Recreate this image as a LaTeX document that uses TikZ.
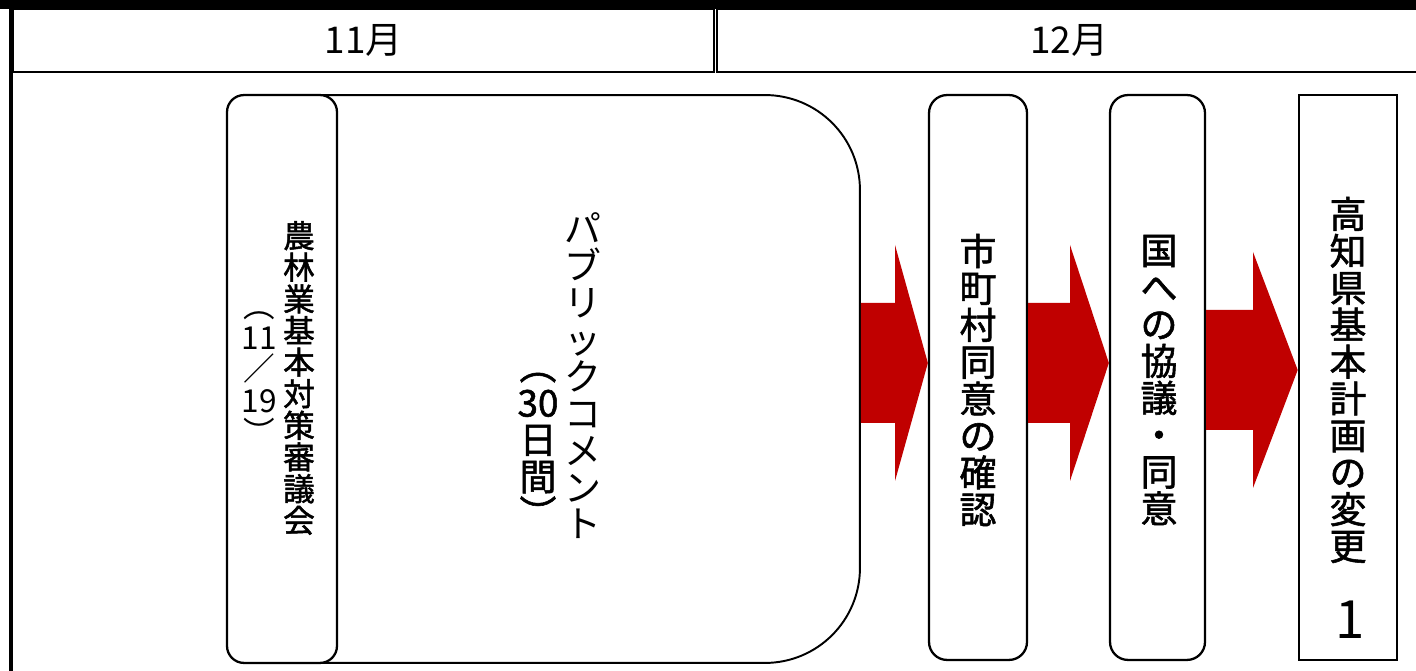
\documentclass[tikz,border=0pt]{standalone}
\usepackage{fontspec}
\usepackage{tikz}
\usetikzlibrary{positioning}
\newfontfamily\jpfont{Noto Sans CJK JP}
\newfontfamily\jpmid[FakeBold=1.5]{Noto Sans CJK JP}
\definecolor{flowred}{RGB}{192,0,0}

\tikzset{
  monthcell/.style={draw,line width=1pt,minimum height=1.26cm,inner sep=0pt,
    font=\jpfont\fontsize{21pt}{21pt}\selectfont},
  stagebox/.style={draw,line width=1.3pt,fill=white,rounded corners=0.36cm,
    minimum width=1.96cm,minimum height=11.3cm,inner sep=0pt},
  vtext/.style={align=center,inner sep=0pt,
    font=\jpmid\fontsize{21pt}{21pt}\selectfont},
}

% block arrow: from node, to node, middle y, x of the head base
\newcommand\flowarrow[4]{%
  \path (0,#3-60) coordinate (arrtop) (0,#3) coordinate (arrmid)
    (0,#3+60) coordinate (arrbot);
  \fill[flowred] (#1.east |- arrtop) -- (#4,#3-60) -- (#4,#3-118)
    -- (#2.west |- arrmid) -- (#4,#3+118) -- (#4,#3+60)
    -- (#1.east |- arrbot) -- cycle;
}

\begin{document}
\begin{tikzpicture}[x=0.02cm,y=-0.02cm]
  \useasboundingbox (0,0) rectangle (1416,671);
  % frame
  \fill (0,0) rectangle (1416,9);
  \fill (9,0) rectangle (13,671);
  % months
  \node[monthcell,minimum width=14.02cm] (nov) at (363.5,40.5) {11月};
  \node[monthcell,minimum width=14.08cm] (dec) at (1069,40.5) {12月};
  % public comment with the council in front
  \node[stagebox,line width=1.1pt,rounded corners=1.9cm,minimum width=12.66cm,
    minimum height=11.36cm] (pc) at (543.5,379) {};
  \node[stagebox,rounded corners=0.34cm,minimum width=2.2cm,
    minimum height=11.36cm] (council) at (282,379) {};
  \node[vtext,font=\jpmid\fontsize{18pt}{18pt}\selectfont]
    (counciltext) at (299,378) {農\\林\\業\\基\\本\\対\\策\\審\\議\\会};
  \node[vtext,font=\jpfont\fontsize{18pt}{18pt}\selectfont]
    (councildate) at (259,378) {︵\\11\\／\\19\\︶};
  \node[vtext,font=\jpfont\fontsize{21pt}{21pt}\selectfont]
    (pctext) at (583,376) {パ\\ブ\\リ\\ッ\\ク\\コ\\メ\\ン\\ト};
  \node[vtext] (pcdays) at (538,450) {︵\\30\\日\\間\\︶};
  % later steps
  \node[stagebox] (city) at (978,377.5) {};
  \node[vtext] (citytext) at (978,380) {市\\町\\村\\同\\意\\の\\確\\認};
  \node[stagebox,minimum width=1.9cm] (nation) at (1157.5,377.5) {};
  \node[vtext] (nationtext) at (1159,380) {国\\へ\\の\\協\\議\\・\\同\\意};
  \node[stagebox,rounded corners=0pt,line width=1.5pt] (plan) at (1348,377.5) {};
  \node[vtext] (plantext) at (1348,380) {高\\知\\県\\基\\本\\計\\画\\の\\変\\更};
  \node[inner sep=0pt,font=\jpfont\fontsize{30pt}{30pt}\selectfont]
    (plannum) at (1350,620) {1};
  % arrows
  \flowarrow{pc}{city}{363}{895}
  \flowarrow{city}{nation}{363}{1070}
  \flowarrow{nation}{plan}{370}{1253}
\end{tikzpicture}
\end{document}
